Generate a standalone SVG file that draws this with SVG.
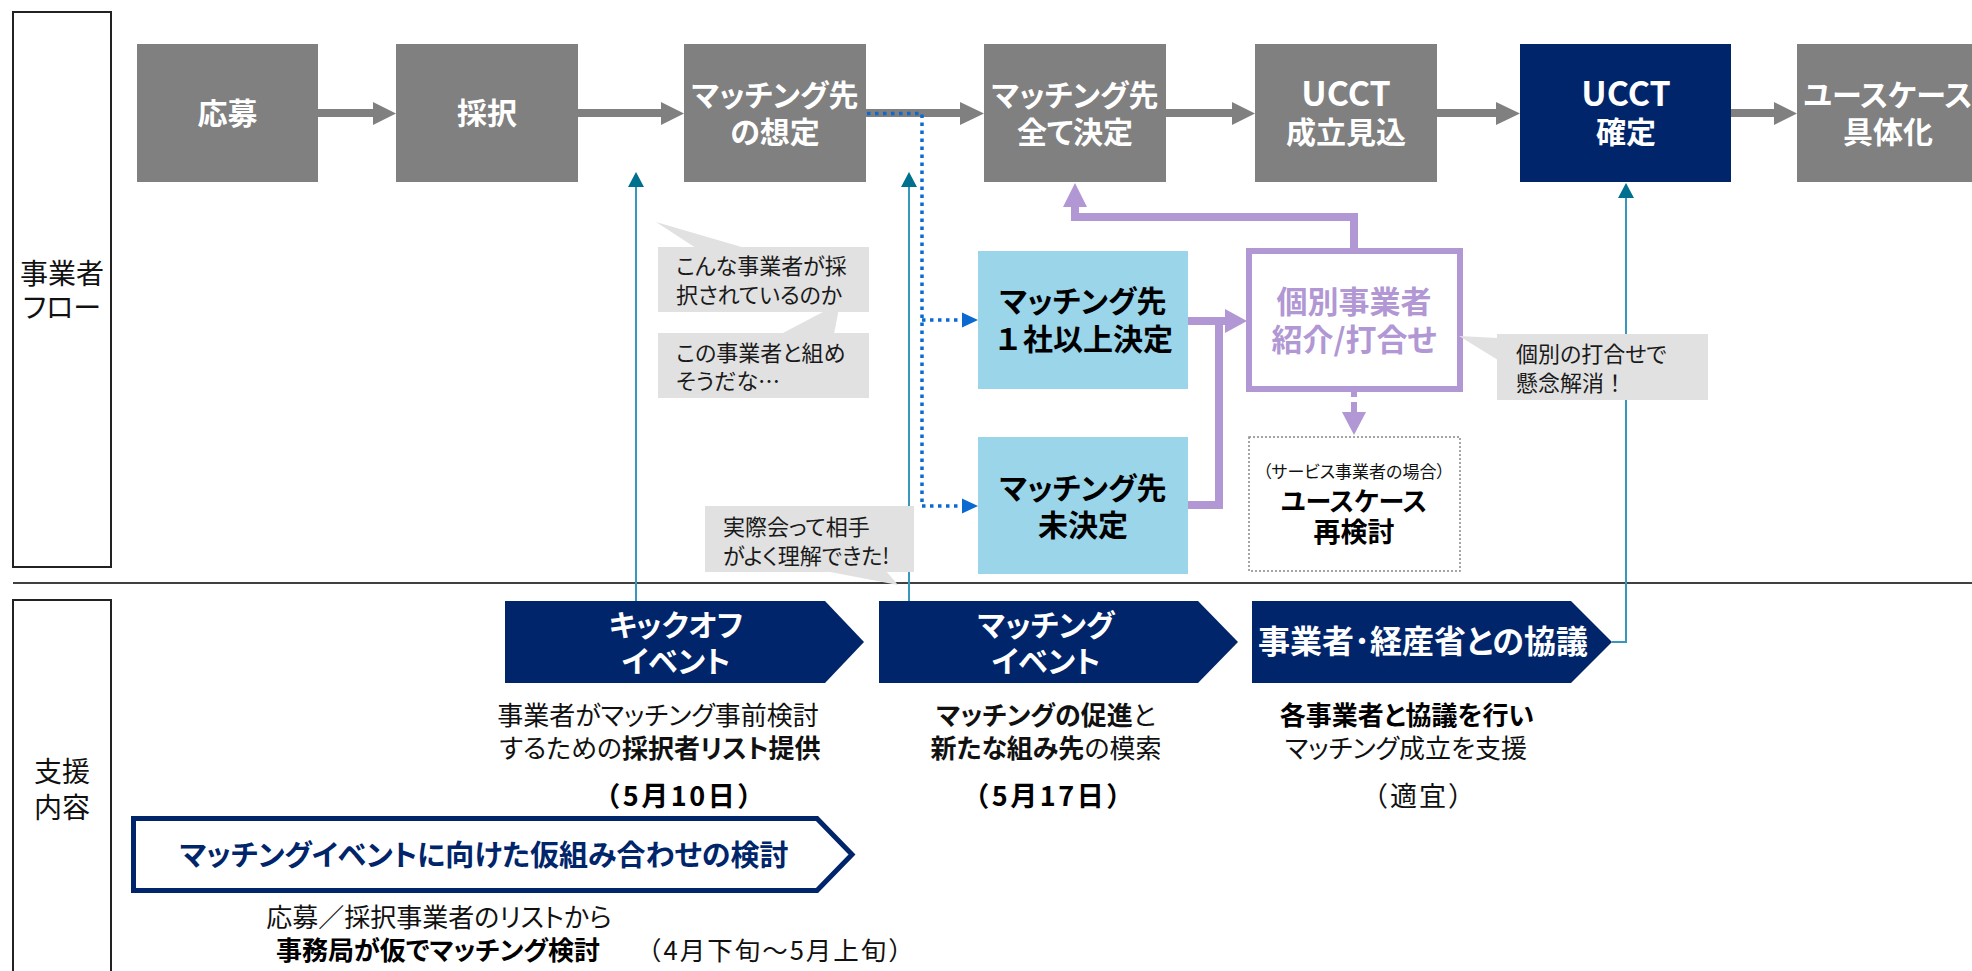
<svg xmlns="http://www.w3.org/2000/svg" width="1972" height="971" viewBox="0 0 1972 971">
<style>
text{font-family:"Noto Sans CJK JP","Noto Sans",sans-serif;font-feature-settings:"palt" 1;}
.w{fill:#fff;font-weight:700;text-anchor:middle;}
.b{fill:#000;font-weight:700;text-anchor:middle;}
.n{fill:#111;text-anchor:middle;}
.np{font-feature-settings:normal;}
.dt{font-feature-settings:normal;font-size:27px;letter-spacing:2.5px;}
.cl{fill:#1a1a1a;font-size:22px;}
.gray{fill:#808080;}
.navy{fill:#00256A;}
.lb{fill:#9AD5EA;}
.call{fill:#E1E1E1;}
.pl{fill:none;stroke:#B197D4;stroke-width:8;}
.ph{fill:#B197D4;}
.dot{fill:none;stroke:#0A6AD0;stroke-width:3.5;stroke-dasharray:3.5 4.5;}
.dh{fill:#0A6AD0;}
.tl{fill:none;stroke:#3897BC;stroke-width:2;}
.th{fill:#00708F;}
.ga{fill:#808080;}
</style>

<!-- lane frames -->
<g id="lanes">
<rect x="13" y="12" width="98" height="555" fill="none" stroke="#222" stroke-width="2"/>
<rect x="13" y="600" width="98" height="380" fill="none" stroke="#222" stroke-width="2"/>
<line x1="13" y1="583" x2="1972" y2="583" stroke="#404040" stroke-width="2"/>
<text class="n" font-size="28"><tspan x="62" y="284">事業者</tspan><tspan x="62" y="318">フロー</tspan></text>
<text class="n" font-size="28"><tspan x="62" y="782">支援</tspan><tspan x="62" y="818">内容</tspan></text>
</g>

<!-- connectors -->
<g id="connectors">
<polygon class="ga" points="318,109 373,109 373,102 396,113.5 373,125 373,117 318,117"/>
<polygon class="ga" points="578,109 661,109 661,102 684,113.5 661,125 661,117 578,117"/>
<polygon class="ga" points="866,109 960,109 960,102 984,113.5 960,125 960,117 866,117"/>
<polygon class="ga" points="1166,109 1232,109 1232,102 1255,113.5 1232,125 1232,117 1166,117"/>
<polygon class="ga" points="1437,109 1496,109 1496,102 1520,113.5 1496,125 1496,117 1437,117"/>
<polygon class="ga" points="1731,109 1774,109 1774,102 1797,113.5 1774,125 1774,117 1731,117"/>

<path class="dot" d="M867 113.5 H922 V506"/>
<path class="dot" d="M922 320 H962"/>
<path class="dot" d="M922 506 H962"/>
<polygon class="dh" points="962,312.5 978,320 962,327.5"/>
<polygon class="dh" points="962,498.5 978,506 962,513.5"/>

<path class="tl" d="M636 601 V186"/>
<polygon class="th" points="636,172 628,187 644,187"/>
<path class="tl" d="M909 601 V186"/>
<polygon class="th" points="909,172 901,187 917,187"/>
<path class="tl" d="M1612 642 H1626 V197"/>
<polygon class="th" points="1626,183 1618,198 1634,198"/>

<path class="pl" d="M1354 248 V217 H1075 V205"/>
<polygon class="ph" points="1063,207 1075,183 1087,207"/>
<path class="pl" d="M1188 505 H1219 V317 M1188 321 H1227"/>
<polygon class="ph" points="1225,309 1247,321 1225,333"/>
<rect class="ph" x="1351" y="392" width="6" height="5"/>
<path class="pl" d="M1354 402 V414" style="stroke-width:6"/>
<polygon class="ph" points="1342,412 1366,412 1354,435"/>
</g>

<!-- top flow nodes -->
<g id="n-oubo"><rect class="gray" x="137" y="44" width="181" height="138"/><text class="w" x="227.5" y="124" font-size="30">応募</text></g>
<g id="n-saitaku"><rect class="gray" x="396" y="44" width="182" height="138"/><text class="w" x="487" y="124" font-size="30">採択</text></g>
<g id="n-soutei"><rect class="gray" x="684" y="44" width="182" height="138"/><text class="w" font-size="30"><tspan x="775" y="106">マッチング先</tspan><tspan x="775" y="143">の想定</tspan></text></g>
<g id="n-subete"><rect class="gray" x="984" y="44" width="182" height="138"/><text class="w" font-size="30"><tspan x="1075" y="106">マッチング先</tspan><tspan x="1075" y="143">全て決定</tspan></text></g>
<g id="n-mikomi"><rect class="gray" x="1255" y="44" width="182" height="138"/><text class="w" font-size="30"><tspan x="1346" y="106" font-size="34">UCCT</tspan><tspan x="1346" y="143">成立見込</tspan></text></g>
<g id="n-kakutei"><rect class="navy" x="1520" y="44" width="211" height="138"/><text class="w" font-size="30"><tspan x="1626" y="106" font-size="34">UCCT</tspan><tspan x="1626" y="143">確定</tspan></text></g>
<g id="n-gutai"><rect class="gray" x="1797" y="44" width="175" height="138"/><text class="w" font-size="30"><tspan x="1888" y="106">ユースケース</tspan><tspan x="1888" y="143">具体化</tspan></text></g>

<!-- middle nodes -->
<g id="n-ichisha"><rect class="lb" x="978" y="251" width="210" height="138"/><text class="b" font-size="30"><tspan x="1083" y="312">マッチング先</tspan><tspan class="np" x="1083" y="350">１社以上決定</tspan></text></g>
<g id="n-mikettei"><rect class="lb" x="978" y="437" width="210" height="137"/><text class="b" font-size="30"><tspan x="1083" y="499">マッチング先</tspan><tspan x="1083" y="536">未決定</tspan></text></g>
<g id="n-kobetsu"><rect x="1249" y="251" width="211" height="138" fill="#fff" stroke="#B197D4" stroke-width="6"/><text font-size="31" font-weight="700" text-anchor="middle" fill="#B197D4"><tspan x="1354" y="313">個別事業者</tspan><tspan x="1354" y="351">紹介/打合せ</tspan></text></g>
<g id="n-saikento"><rect x="1249" y="437" width="211" height="134" fill="#fff" stroke="#888" stroke-width="1.5" stroke-dasharray="2 2"/><text class="b"><tspan x="1354" y="478" font-size="17" font-weight="400" fill="#111">（サービス事業者の場合）</tspan><tspan x="1354" y="511" font-size="26">ユースケース</tspan><tspan x="1354" y="542" font-size="27">再検討</tspan></text></g>

<!-- callouts -->
<g id="c-1"><polygon class="call" points="656,222 696,248 745,248"/><rect class="call" x="658" y="247" width="211" height="65"/><text class="cl"><tspan x="676" y="274">こんな事業者が採</tspan><tspan x="676" y="303">択されているのか</tspan></text></g>
<g id="c-2"><polygon class="call" points="840,303 781,334 834,334"/><rect class="call" x="658" y="333" width="211" height="65"/><text class="cl"><tspan x="676" y="361">この事業者と組め</tspan><tspan x="676" y="389">そうだな…</tspan></text></g>
<g id="c-3"><polygon class="call" points="825,571 886,571 898,585"/><rect class="call" x="705" y="506" width="209" height="66"/><text class="cl"><tspan x="723" y="535">実際会って相手</tspan><tspan x="723" y="564">がよく理解できた!</tspan></text></g>
<g id="c-4"><polygon class="call" points="1459,336 1498,338 1498,360"/><rect class="call" x="1497" y="334" width="211" height="66"/><text class="cl"><tspan x="1516" y="362">個別の打合せで</tspan><tspan class="np" x="1516" y="391">懸念解消！</tspan></text></g>

<!-- support chevrons -->
<g id="s-kickoff"><polygon class="navy" points="505,601 825,601 864,642 825,683 505,683"/><text class="w" font-size="30"><tspan x="676" y="636">キックオフ</tspan><tspan x="676" y="672">イベント</tspan></text>
<text class="n" font-size="26"><tspan x="658" y="725">事業者がマッチング事前検討</tspan><tspan x="660" y="758">するための<tspan font-weight="700">採択者リスト提供</tspan></tspan></text>
<text class="b dt" x="680" y="806">（5月10日）</text></g>
<g id="s-matching"><polygon class="navy" points="879,601 1198,601 1238,642 1198,683 879,683"/><text class="w" font-size="30"><tspan x="1046" y="636">マッチング</tspan><tspan x="1046" y="672">イベント</tspan></text>
<text class="n" font-size="26"><tspan x="1046" y="725"><tspan font-weight="700">マッチングの促進</tspan>と</tspan><tspan x="1046" y="758"><tspan font-weight="700">新たな組み先</tspan>の模索</tspan></text>
<text class="b dt" x="1049" y="806">（5月17日）</text></g>
<g id="s-kyogi"><polygon class="navy" points="1252,601 1571,601 1612,642 1571,683 1252,683"/><text class="w" x="1423" y="653" font-size="32">事業者･経産省との協議</text>
<text class="n" font-size="26"><tspan x="1407" y="725" font-weight="700" fill="#000">各事業者と協議を行い</tspan><tspan x="1406" y="758">マッチング成立を支援</tspan></text>
<text class="n dt" x="1419" y="806" style="letter-spacing:2px">（適宜）</text></g>
<g id="s-kari"><polygon points="133.5,818.5 817,818.5 852,854.5 817,890.5 133.5,890.5" fill="#fff" stroke="#00256A" stroke-width="5"/><text x="484" y="866" font-size="29" font-weight="700" text-anchor="middle" fill="#00256A">マッチングイベントに向けた仮組み合わせの検討</text>
<text class="n" font-size="26"><tspan x="439" y="927">応募／採択事業者のリストから</tspan><tspan x="438" y="960" font-weight="700" fill="#000">事務局が仮でマッチング検討</tspan></text>
<text class="np" x="636" y="960" font-size="25.5" fill="#111" style="letter-spacing:2px">（4月下旬～5月上旬）</text></g>
</svg>
